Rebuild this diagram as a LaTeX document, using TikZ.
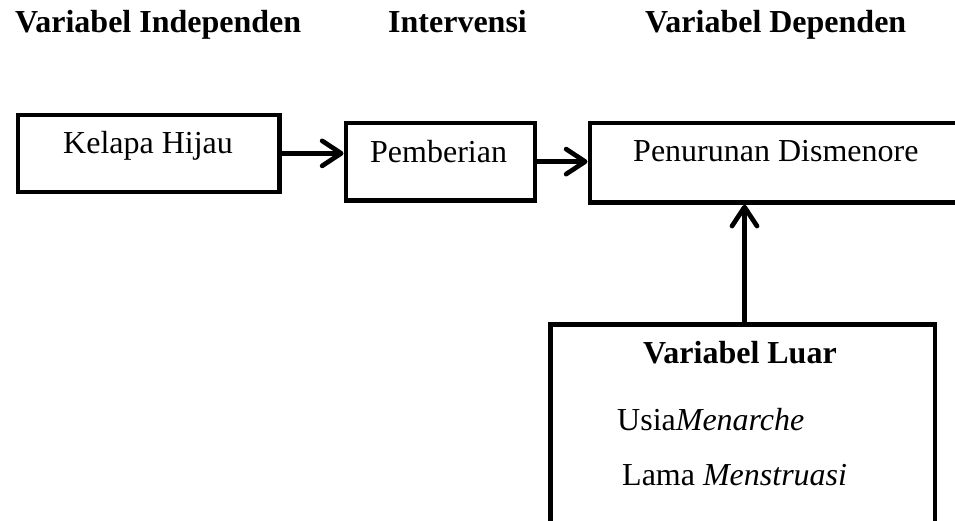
\documentclass[tikz,border=0pt]{standalone}
\usepackage{fontspec}
\setmainfont{Liberation Serif}
\usetikzlibrary{arrows.meta}
\begin{document}
\begin{tikzpicture}[x=1pt,y=-1pt,
  box/.style={draw=black, line width=4.7pt, rectangle, inner sep=0pt, anchor=north west},
  lbl/.style={anchor=base west, inner sep=0pt, font=\fontsize{32}{36}\selectfont},
  hdr/.style={lbl, font=\fontsize{32}{36}\selectfont\bfseries},
  arr/.style={line width=4.7pt, -{Straight Barb[length=19pt,width=25pt,round]}}]
\useasboundingbox (0,0) rectangle (955,520);
\clip (0,0) rectangle (955,520);
% headers
\node[hdr] (h1) at (15,32) {Variabel Independen};
\node[hdr] (h2) at (388,32) {Intervensi};
\node[hdr] (h3) at (645,32) {Variabel Dependen};
% boxes
\node[box, minimum width=261.5pt, minimum height=77pt] (b1) at (15.5,112.5) {};
\node[box, minimum width=189pt, minimum height=77.5pt] (b2) at (343.5,120.5) {};
\node[box, minimum width=420pt, minimum height=79.5pt] (b3) at (587.5,120.5) {};
\node[box, minimum width=384.5pt, minimum height=260pt] (b4) at (548,322) {};
% texts
\node[lbl] (t1) at (63,153) {Kelapa Hijau};
\node[lbl] (t2) at (370,162) {Pemberian};
\node[lbl] (t3) at (633,161) {Penurunan Dismenore};
\node[hdr] (t4) at (643,363) {Variabel Luar};
\node[lbl] (t5) at (617,430) {Usia\textit{Menarche}};
\node[lbl] (t6) at (622,485) {Lama \textit{Menstruasi}};
% connectors
\draw[arr] (b1.east) -- (b1.east -| b2.west);
\draw[arr] (b2.east) -- (b2.east -| b3.west);
\coordinate (up) at (744.5,322);
\draw[arr] (up) -- (up |- b3.south);
\end{tikzpicture}
\end{document}
